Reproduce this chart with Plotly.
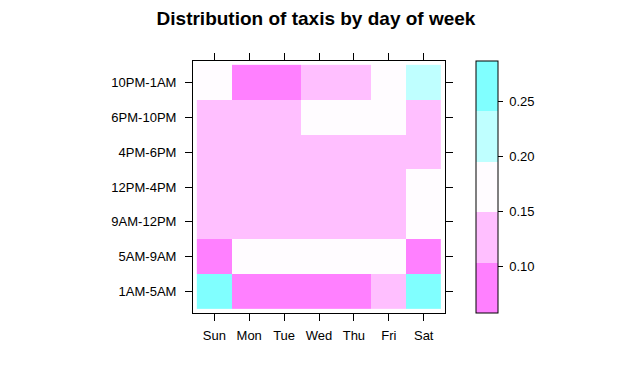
import plotly.graph_objects as go
import numpy as np

days = ["Sun", "Mon", "Tue", "Wed", "Thu", "Fri", "Sat"]
slots = ["1AM-5AM", "5AM-9AM", "9AM-12PM", "12PM-4PM", "4PM-6PM", "6PM-10PM", "10PM-1AM"]

share_1am_5am = [0.26, 0.08, 0.07, 0.075, 0.08, 0.12, 0.285]
share_5am_9am = [0.06, 0.18, 0.185, 0.18, 0.175, 0.16, 0.07]
share_9am_12pm = [0.13, 0.14, 0.14, 0.135, 0.135, 0.13, 0.155]
share_12pm_4pm = [0.145, 0.135, 0.135, 0.13, 0.13, 0.135, 0.175]
share_4pm_6pm = [0.11, 0.12, 0.12, 0.125, 0.125, 0.12, 0.12]
share_6pm_10pm = [0.14, 0.145, 0.145, 0.155, 0.16, 0.16, 0.13]
share_10pm_1am = [0.16, 0.09, 0.095, 0.12, 0.13, 0.18, 0.22]

colorbar_ticks = [0.10, 0.15, 0.20, 0.25]

z = np.array([share_1am_5am, share_5am_9am, share_9am_12pm, share_12pm_4pm,
              share_4pm_6pm, share_6pm_10pm, share_10pm_1am])

zlo, zhi = z.min(), z.max()
pad = (zhi - zlo) * 0.01
zmin, zmax = zlo - pad, zhi + pad

cols = ["#FF80FF", "#FFBFFF", "#FFFCFF", "#BFFFFF", "#80FFFF"]
n = len(cols)
cs = []
for i, c in enumerate(cols):
    cs.append([i / n, c])
    cs.append([(i + 1) / n, c])

font = "Liberation Sans, Arial, sans-serif"

# page body has an 8px margin; figure coordinates = page coordinates - 8
W, H = 624, 363

fig = go.Figure(go.Heatmap(
    z=z, x=list(range(7)), y=list(range(7)),
    zmin=zmin, zmax=zmax, colorscale=cs,
    xgap=0, ygap=0,
    colorbar=dict(
        x=1.1216, xanchor="left", xpad=0, ypad=0,
        y=0.5, yanchor="middle", len=252, lenmode="pixels",
        thickness=22, outlinewidth=1, outlinecolor="black",
        tickvals=colorbar_ticks, ticktext=["\u00a0" + f"{v:.2f}" for v in colorbar_ticks],
        ticks="outside", ticklen=5, tickcolor="black",
        tickfont=dict(family=font, size=13, color="black"),
    ),
    hoverinfo="skip",
))

axis_common = dict(
    showgrid=False, zeroline=False, showline=True, linecolor="black", linewidth=1,
    mirror="ticks", ticks="outside", ticklen=7, tickcolor="black", tickwidth=1,
    tickfont=dict(family=font, size=13, color="black"),
    range=[-0.61, 6.61], fixedrange=True,
)

fig.update_xaxes(tickvals=list(range(7)), ticktext=days, ticklabelstandoff=3, **axis_common)
fig.update_yaxes(tickvals=list(range(7)), ticktext=slots, ticklabelstandoff=6, **axis_common)

fig.update_layout(
    width=W, height=H,
    margin=dict(l=184.5, r=187, t=53, b=58),
    paper_bgcolor="white", plot_bgcolor="white",
    title=dict(text="<b>Distribution of taxis by day of week</b>",
               x=(316 - 8) / W, xanchor="center", xref="container",
               y=1 - 10 / H, yanchor="middle", yref="container",
               font=dict(family=font, size=19, color="black")),
)

fig.write_html("out.html")
